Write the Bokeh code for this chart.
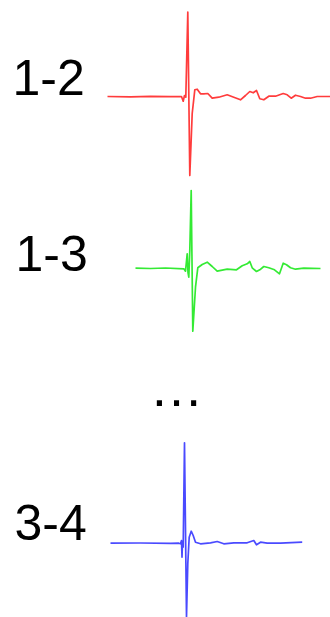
from bokeh.plotting import figure
from bokeh.models import Range1d
from bokeh.embed import file_html
from bokeh.resources import INLINE
from bokeh.core.properties import value

# ---- data ----
labels = ["1-2", "1-3", "3-4"]

t_12 = [0, 23, 43, 63, 74, 75.7, 77, 78.3, 80.3, 82.3, 84.7, 87.3, 89.7, 93, 96.3, 100.3,
        104.7, 111.3, 119.7, 126.3, 133, 138, 142.3, 145.7, 149, 152.3, 156.3, 161.3, 168,
        175.7, 179.7, 183.7, 188, 193, 198, 203, 209.7, 223]
v_12 = [0, -0.3, 0.2, -0.2, 0, -4.7, 1, -0.7, 84.3, -79, -17, 6.7, 7.3, 2.7, 2.7, 3,
        -1.7, -0.7, 1.7, -0.7, -3.3, 1, 5, 3.7, 6, -2.3, -3.3, 0.3, 0.3,
        3, 1.7, -1.7, 1.3, 0, -1.7, -1.7, 0, 0]

t_13 = [0, 15, 30, 48.3, 50, 51.7, 52.5, 53.3, 54.3, 55.7, 57.3, 60, 62.3, 66.7, 71.7, 76.7,
        81.7, 91.7, 101, 106.7, 111.7, 114.3, 116.7, 121, 124.3, 128.3, 133.3, 139, 144,
        147.7, 151, 155, 160, 168.3, 185]
v_13 = [0.3, 0, 0.5, -0.3, -2.7, 14.7, -4, -8.7, 18, 78, -62.7, -18.7, 0.7, 4, 6.3, 2,
        -2.7, -0.7, -1.3, 2.7, 4.7, 7, 0.7, -3, -1.3, 2, 0.7, -1.3, -5.3,
        5.3, 3.7, 0.7, -0.7, 0.3, 0]

t_34 = [0, 30, 60, 68.3, 70, 71, 71.5, 72, 72.7, 74, 76, 77.3, 78.7, 80.7, 82.7, 85, 90,
        100, 106.7, 113.3, 123.3, 136.7, 143.3, 146, 150, 156.7, 170, 191.7]
v_34 = [0, 0.2, -0.1, 0, -0.6, 2.7, -14, 1.7, -4, 100.4, -74, -20.3, 6, 12, 7.7, 1, -0.6,
        0.4, 1.7, -0.6, 0.4, 0.4, 2.7, -1.6, 1, 0, 0, 1]

# ---- layout (page pixel coordinates) ----
W, H = 330, 617
p = figure(width=W, height=H, output_backend="svg", toolbar_location=None,
           x_range=Range1d(0, W), y_range=Range1d(-H, 0),
           min_border=0, outline_line_color=None, background_fill_color="white")
p.axis.visible = False
p.grid.visible = False

traces = [
    (t_12, v_12, 107, 96.0, "#ff1a1a"),
    (t_13, v_13, 135, 268.0, "#11e611"),
    (t_34, v_34, 110, 542.7, "#2a2aff"),
]
for t, v, x0, base, col in traces:
    xs = [x0 + a for a in t]
    ys = [-base + b for b in v]
    p.line(xs, ys, line_color=col, line_width=1.7, line_alpha=0.85, line_join="round")

label_pos = [(12, -77), (15, -253), (14, -522)]
for lab, (x, y) in zip(labels, label_pos):
    p.text(x=[x], y=[y], text=[lab], text_font=value("Liberation Sans"),
           text_font_size="50px", text_color="black",
           text_align="left", text_baseline="alphabetic")

p.text(x=[176], y=[-386.5], text=["\u2026"], text_font=value("Liberation Sans"),
       text_font_size="54px", text_color="black",
       text_align="center", text_baseline="alphabetic")

open("out.html", "w").write(file_html(p, INLINE))
